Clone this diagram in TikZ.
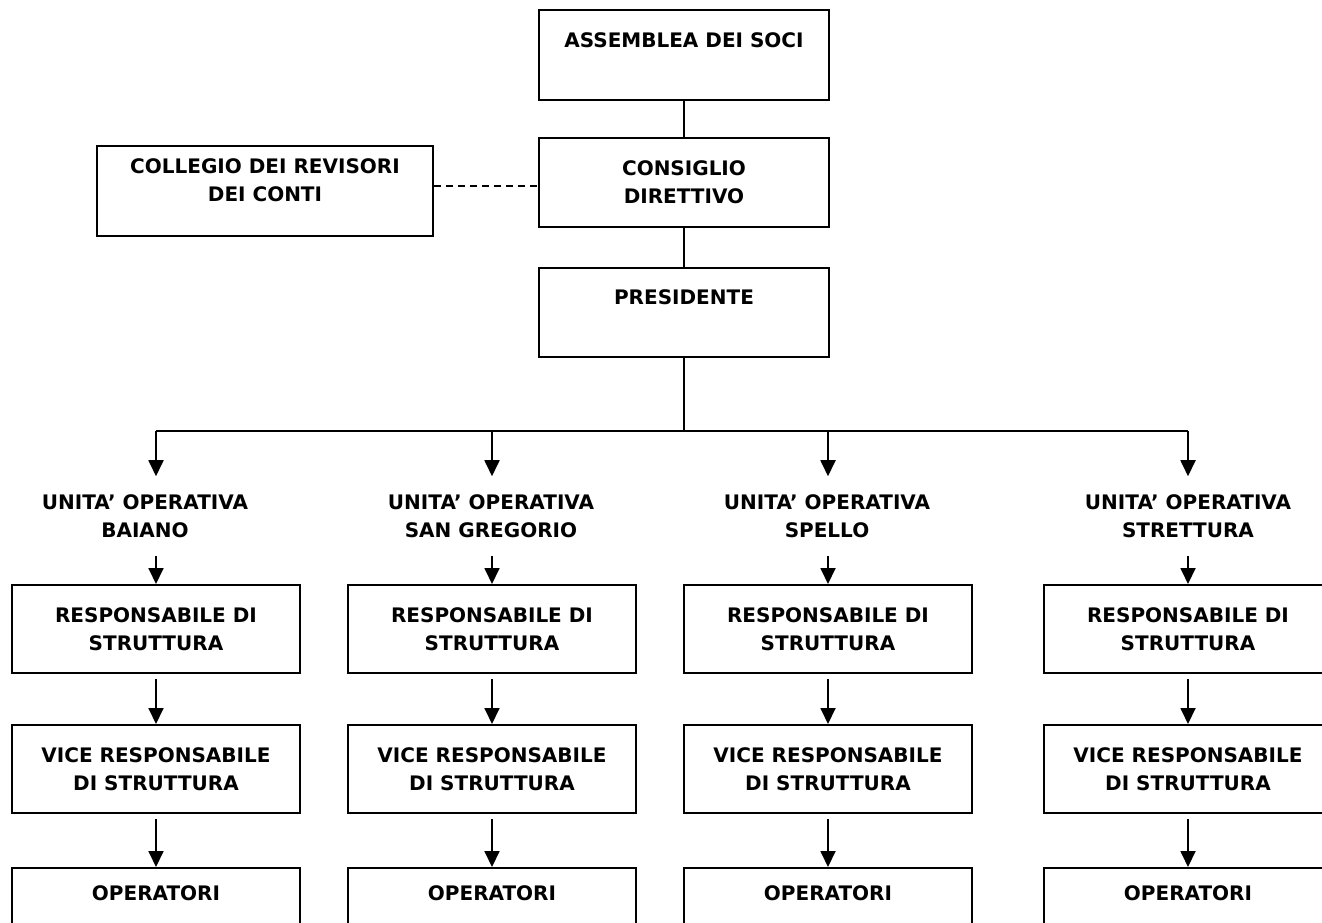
\documentclass[tikz,border=0pt]{standalone}
\usepackage{fontspec}
\setmainfont{DejaVu Sans}
\usetikzlibrary{arrows.meta}
\newcommand\orgfont{\fontsize{20}{28}\selectfont\bfseries}
\begin{document}
\begin{tikzpicture}[x=1pt,y=-1pt,
  box/.style={draw, line width=2pt, minimum width=288pt, minimum height=88pt, inner sep=0pt, align=center, font=\orgfont},
  txt/.style={inner sep=0pt, align=center, font=\orgfont},
  unit/.style={inner xsep=0pt, inner ysep=18pt, align=center, font=\orgfont},
  conn/.style={line width=1.8pt},
  arr/.style={line width=1.8pt, -{Triangle[length=16pt,width=15pt]}},
]
\clip (0,0) rectangle (1322,922);
\fill[white] (0,0) rectangle (1322,922);

\node[box, minimum width=290pt, minimum height=90pt] (asm) at (684,55) {};
\node[txt] (asmt) at (684,40) {ASSEMBLEA DEI SOCI};
\node[box, minimum width=290pt, minimum height=89pt] (con) at (684,182.5) {CONSIGLIO\\DIRETTIVO};
\node[box, minimum width=290pt, minimum height=89pt] (pre) at (684,312.5) {};
\node[txt] (pret) at (684,297) {PRESIDENTE};
\node[box, minimum width=336pt, minimum height=90pt] (col) at (265,191) {};
\node[txt] (colt) at (265,180) {COLLEGIO DEI REVISORI\\DEI CONTI};

\draw[conn] (asm.south) -- (con.north);
\draw[conn] (con.south) -- (pre.north);
\draw[conn, dash pattern=on 7pt off 5pt] ([yshift=5pt]col.east) -- ([yshift=5pt]col.east -| con.west);

\foreach \i/\x/\lx/\nm in {1/156/145/BAIANO, 2/492/491/SAN GREGORIO, 3/828/827/SPELLO, 4/1188/1188/STRETTURA}{
  \coordinate (b\i) at (\x,431);
  \node[unit] (u\i) at (\lx,516) {UNITA’ OPERATIVA\\\nm};
  \node[box] (r\i) at (\x,629) {RESPONSABILE DI\\STRUTTURA};
  \node[box] (v\i) at (\x,769) {VICE RESPONSABILE\\DI STRUTTURA};
  \node[box] (o\i) at (\x,912) {};
  \node[txt] (ot\i) at (\x,893) {OPERATORI};
  \draw[arr] (b\i) -- (b\i |- u\i.north);
  \draw[arr] (r\i.north |- u\i.south) -- (r\i.north);
  \draw[arr, shorten <=5pt] (r\i.south) -- (v\i.north);
  \draw[arr, shorten <=5pt] (v\i.south) -- (o\i.north);
}
\draw[conn] (pre.south) -- (pre.south |- b1);
\draw[conn] (b1) -- (b4);
\end{tikzpicture}
\end{document}
